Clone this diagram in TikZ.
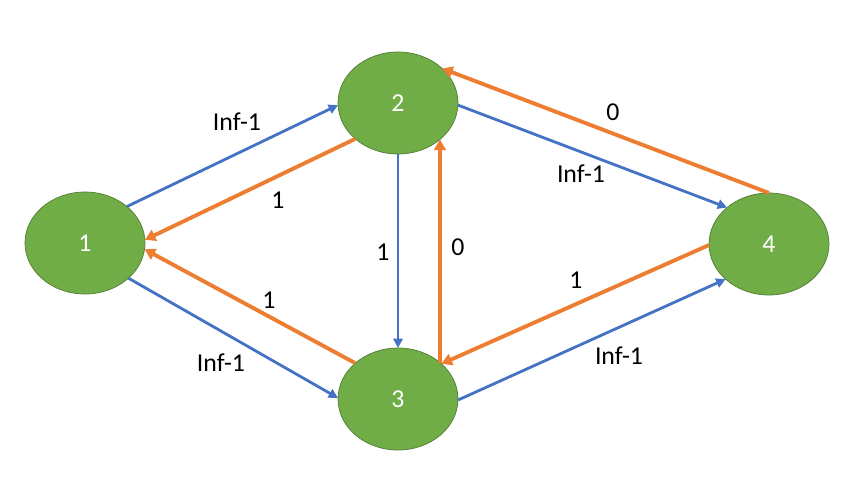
\documentclass[tikz,border=0pt]{standalone}
\usepackage{fontspec}
\setmainfont{Carlito}
\usetikzlibrary{shapes.geometric,arrows.meta}

\definecolor{nodegreen}{HTML}{70AD47}
\definecolor{nodeline}{HTML}{507E32}
\definecolor{flowblue}{HTML}{4472C4}
\definecolor{floworange}{HTML}{ED7D31}

\tikzset{
	vertex/.style={draw=nodeline,line width=0.6pt,fill=nodegreen,ellipse,inner sep=0,outer sep=0,minimum width=3.6cm,minimum height=3.06cm,text=white,font=\fontsize{22}{26}\selectfont},
	fwd/.style={draw=flowblue,line width=2.4pt,-{Triangle[length=8pt,width=8pt]}},
	back/.style={draw=floworange,line width=3.3pt,-{Triangle[length=9pt,width=10pt]}},
	weight/.style={font=\fontsize{22}{26}\selectfont,inner sep=0}
}

\begin{document}
\begin{tikzpicture}[x=0.03cm,y=-0.03cm]
	\useasboundingbox (0,0) rectangle (865,498);
	\node[vertex] (v1) at (85,243) {1};
	\node[vertex] (v2) at (398,103) {2};
	\node[vertex] (v3) at (398,399) {3};
	\node[vertex] (v4) at (769,244) {4};
	% blue
	\draw[fwd] (v1.41) -- (v2.182);
	\draw[fwd] (v1.321) -- (v3.179);
	\draw[fwd] (v2.270) -- (v3.90);
	\draw[fwd] (v2.358) -- (v4.139);
	\draw[fwd] (v3.359) -- (v4.219);
	% orange
	\draw[back] (v2.220) -- (v1.3);
	\draw[back] (v3.140) -- (v1.354);
	\draw[back] (v3.41) -- (v2.319);
	\draw[back] (v4.90) -- (v2.38);
	\draw[back] (v4.181) -- (v3.39);
	% labels
	\node[weight] (w12) at (237,122) {Inf-1};
	\node[weight] (w21) at (278,200) {1};
	\node[weight] (w13) at (221,363) {Inf-1};
	\node[weight] (w31) at (269,300) {1};
	\node[weight] (w23) at (383,252) {1};
	\node[weight] (w32) at (458,247) {0};
	\node[weight] (w24) at (581,174) {Inf-1};
	\node[weight] (w42) at (613,112) {0};
	\node[weight] (w34) at (619,356) {Inf-1};
	\node[weight] (w43) at (576,280) {1};
\end{tikzpicture}
\end{document}
